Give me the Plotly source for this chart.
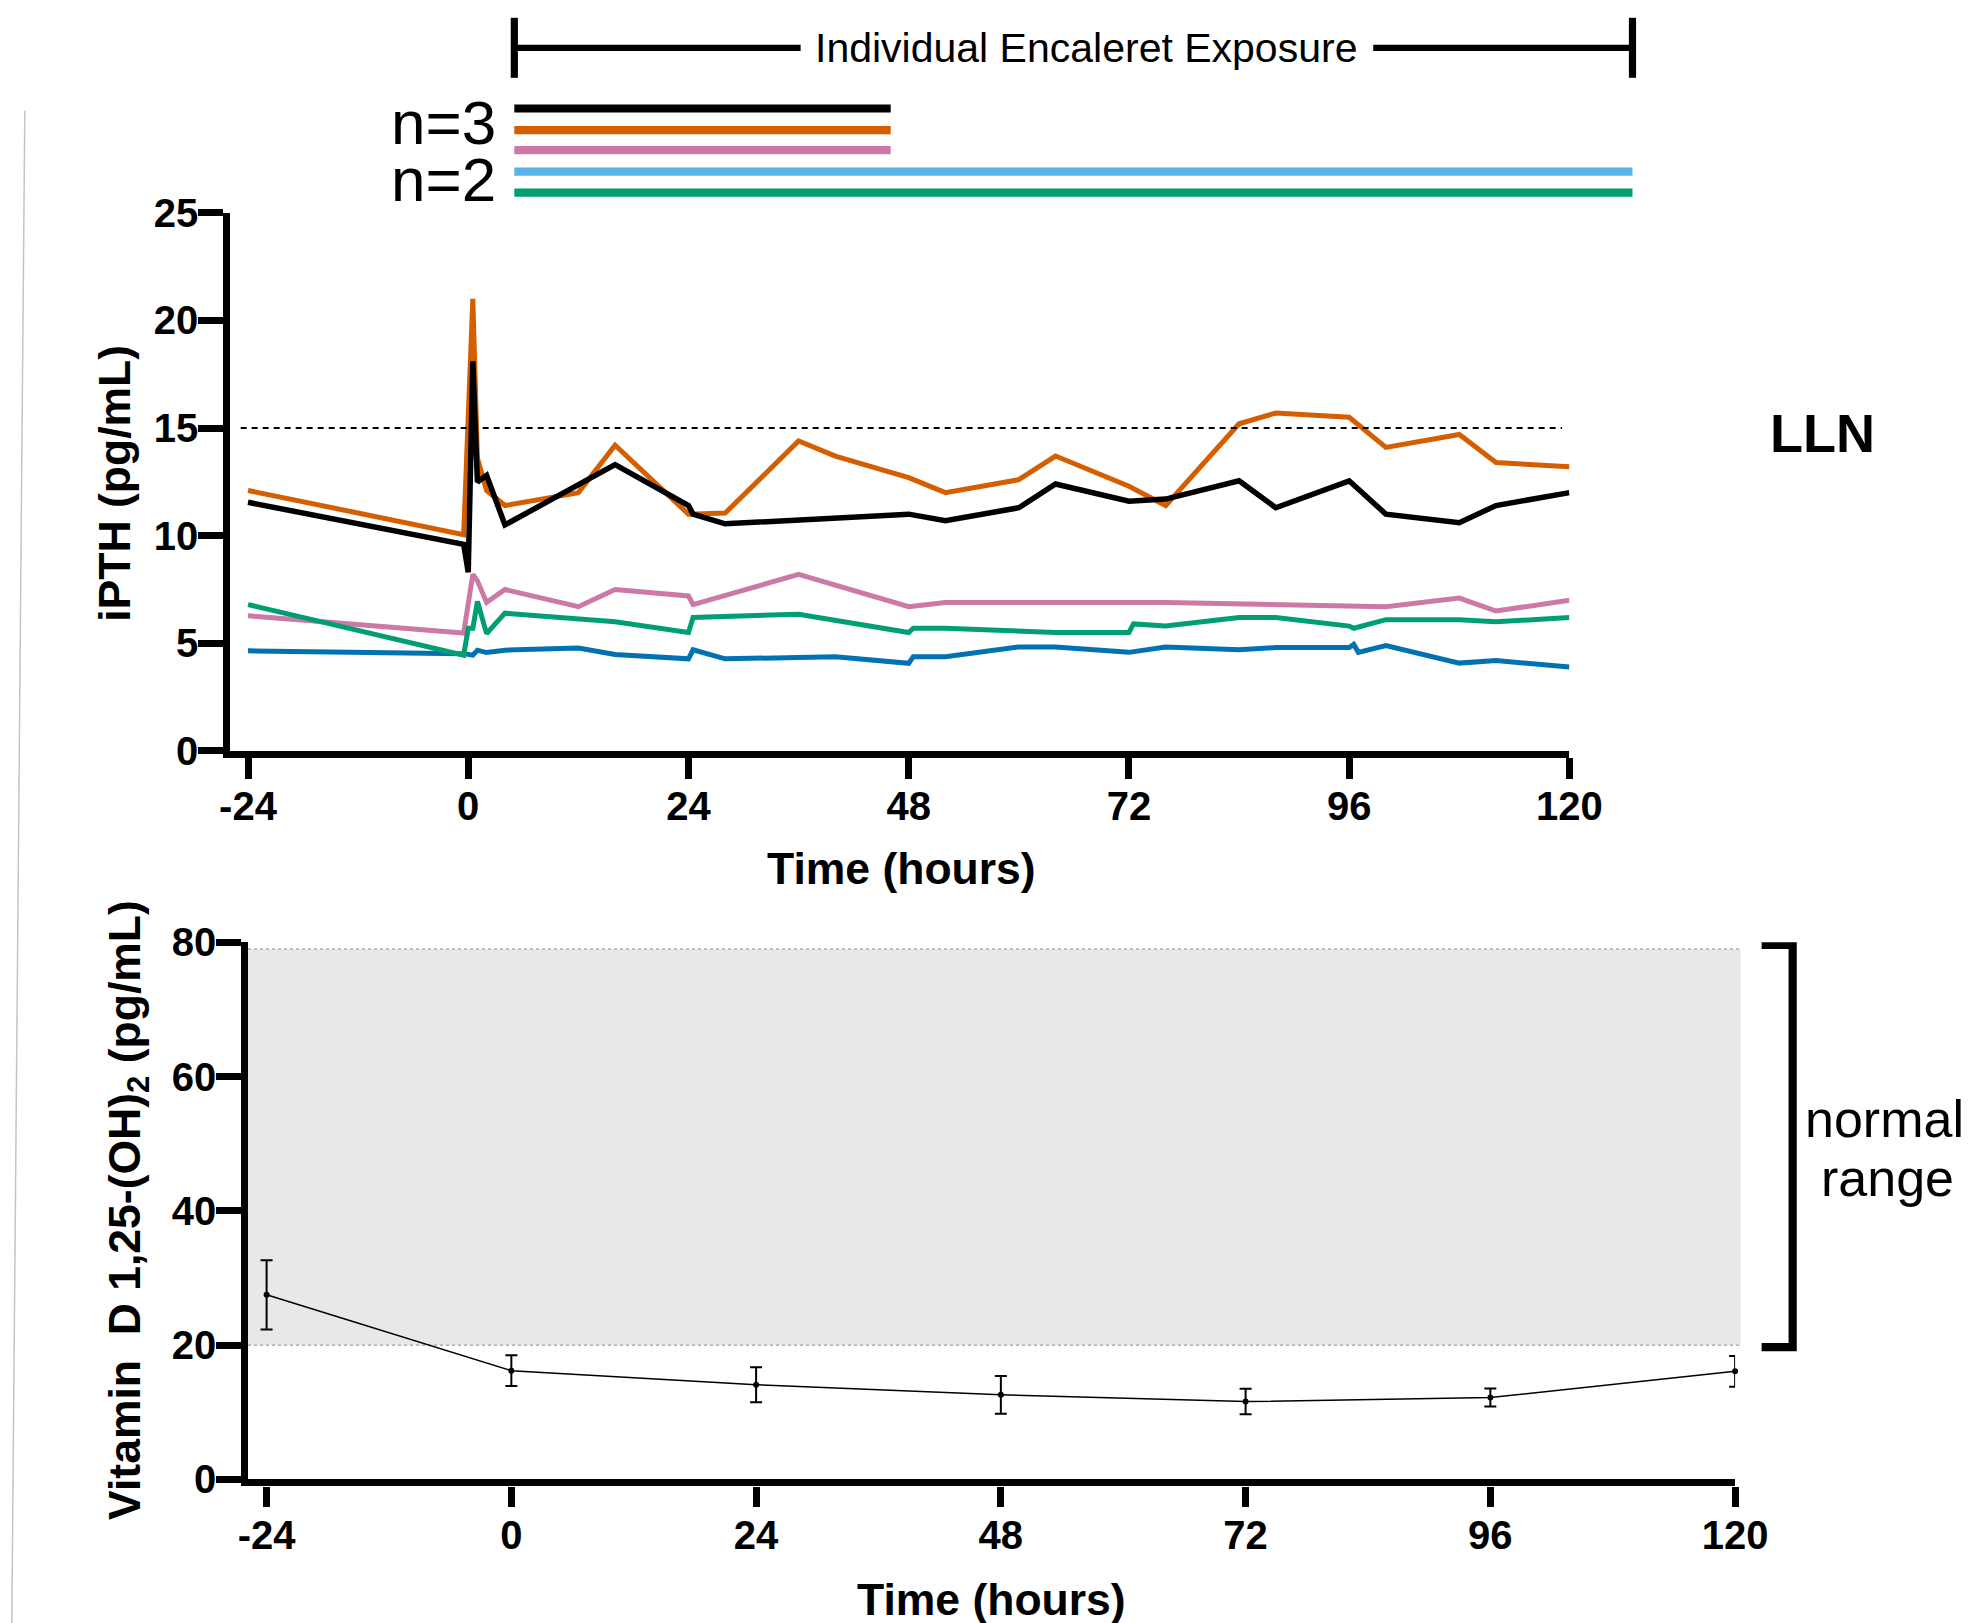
import plotly.graph_objects as go

FONT = "Liberation Sans, Arial, Helvetica, sans-serif"

# ---------------- iPTH (top panel) ----------------
t_black = [-24, -0.5, 0, 0.5, 1, 2, 4, 16, 24, 24.5, 28, 48, 52, 60, 64, 72, 76, 84, 88, 96, 100, 108, 112, 120]
v_black = [11.55, 9.6, 8.3, 18.1, 12.5, 12.8, 10.5, 13.3, 11.4, 11.0, 10.55, 11.0, 10.7, 11.3, 12.4, 11.6, 11.7, 12.55, 11.3, 12.55, 11.0, 10.6, 11.4, 12.0]

t_orange = [-24, -0.5, 0.5, 1, 2, 4, 12, 16, 24, 28, 36, 40, 48, 52, 60, 64, 72, 76, 84, 88, 96, 100, 108, 112, 120]
v_orange = [12.1, 10.05, 21.0, 13.6, 12.1, 11.4, 12.0, 14.2, 11.0, 11.05, 14.4, 13.7, 12.7, 12.0, 12.6, 13.7, 12.3, 11.4, 15.2, 15.7, 15.5, 14.1, 14.7, 13.4, 13.2]

t_pink = [-24, -0.5, 0.5, 1, 2, 4, 12, 16, 24, 24.5, 36, 48, 52, 76, 100, 108, 112, 120]
v_pink = [6.28, 5.48, 8.2, 7.9, 6.9, 7.5, 6.7, 7.5, 7.2, 6.8, 8.2, 6.7, 6.9, 6.9, 6.7, 7.1, 6.5, 7.0]

t_green = [-24, -0.5, 0, 0.5, 1, 2, 4, 12, 16, 24, 24.5, 36, 48, 48.5, 52, 64, 72, 72.5, 76, 84, 88, 96, 96.5, 100, 108, 112, 120]
v_green = [6.8, 4.45, 5.7, 5.7, 6.95, 5.45, 6.4, 6.1, 6.0, 5.5, 6.2, 6.35, 5.5, 5.7, 5.7, 5.5, 5.5, 5.9, 5.8, 6.2, 6.2, 5.8, 5.7, 6.1, 6.1, 6.0, 6.2]

t_blue = [-24, -0.5, 0.5, 1, 2, 4, 12, 16, 24, 24.5, 28, 36, 40, 48, 48.5, 52, 60, 64, 72, 76, 84, 88, 96, 96.5, 97, 100, 108, 112, 120]
v_blue = [4.65, 4.52, 4.45, 4.68, 4.57, 4.68, 4.78, 4.48, 4.28, 4.7, 4.28, 4.37, 4.37, 4.07, 4.38, 4.38, 4.83, 4.83, 4.58, 4.83, 4.7, 4.8, 4.8, 4.95, 4.58, 4.9, 4.08, 4.2, 3.9]

LLN_VALUE = 15
time_ticks = [-24, 0, 24, 48, 72, 96, 120]
time_labels = ["-24", "0", "24", "48", "72", "96", "120"]
iPTH_ticks = [0, 5, 10, 15, 20, 25]

# ---------------- Vitamin D (bottom panel) ----------------
vitd_time = [-24, 0, 24, 48, 72, 96, 120]
vitd_mean = [27.5, 16.2, 14.1, 12.6, 11.6, 12.2, 16.1]
vitd_err = [5.15, 2.3, 2.6, 2.8, 1.9, 1.35, 2.3]
vitd_ticks = [0, 20, 40, 60, 80]
NORMAL_LOW, NORMAL_HIGH = 20, 79

C_BLACK = "#000000"
C_ORANGE = "#D55E00"
C_PINK = "#CC79A7"
C_GREEN = "#009E73"
C_BLUE = "#0072B2"
C_SKY = "#56B4E9"

# mapping from target-picture pixels to figure pixels (measured photo scale/offset)
SX, SY = 0.977, 0.973
OXF, OYF = 18.2, 29.2
FW, FH = 2002, 1640
K = 1.0 / ((SX + SY) / 2)


def px(x):
    return ((x - OXF) / SX) / FW


def py(y):
    return 1 - ((y - OYF) / SY) / FH


def lw(w):
    return w * K


fig = go.Figure()

series = [
    (t_blue, v_blue, C_BLUE, 5),
    (t_pink, v_pink, C_PINK, 5),
    (t_green, v_green, C_GREEN, 5),
    (t_orange, v_orange, C_ORANGE, 5),
    (t_black, v_black, C_BLACK, 5.5),
]
for t, v, c, w in series:
    fig.add_trace(go.Scatter(x=t, y=v, mode="lines", line=dict(color=c, width=w),
                             xaxis="x", yaxis="y", showlegend=False, hoverinfo="skip"))

fig.add_trace(go.Scatter(
    x=vitd_time, y=vitd_mean, mode="lines+markers", cliponaxis=False,
    line=dict(color="black", width=1.5), marker=dict(color="black", size=6),
    error_y=dict(type="data", array=vitd_err, visible=True, color="black", thickness=2, width=6),
    xaxis="x2", yaxis="y2", showlegend=False, hoverinfo="skip"))

axis_common = dict(showgrid=False, zeroline=False, showline=True, linecolor="black",
                   linewidth=lw(7), ticks="outside", tickwidth=lw(7), tickcolor="black",
                   tickfont=dict(family=FONT, size=40, color="black", weight="bold"))

fig.update_layout(
    width=FW, height=FH,
    margin=dict(l=0, r=0, t=0, b=0),
    paper_bgcolor="white", plot_bgcolor="white",
    xaxis=dict(domain=[px(229), px(1567)], range=[-25.96, 120], tickvals=time_ticks,
               ticktext=time_labels, ticklen=lw(20), ticklabelstandoff=-7, anchor="y", **axis_common),
    yaxis=dict(domain=[py(750), py(212)], range=[0, 25], tickvals=iPTH_ticks,
               ticklen=lw(24), ticklabelstandoff=-8, anchor="x", **axis_common),
    xaxis2=dict(domain=[px(247), px(1732.5)], range=[-25.82, 120], tickvals=time_ticks,
                ticktext=time_labels, ticklen=lw(20), ticklabelstandoff=-6, anchor="y2", **axis_common),
    yaxis2=dict(domain=[py(1478.4), py(941.3)], range=[0, 80], tickvals=vitd_ticks,
                ticklen=lw(24), ticklabelstandoff=-8, anchor="x2", **axis_common),
)

shapes = []
# normal range band (bottom)
shapes.append(dict(type="rect", xref="x2 domain", yref="y2", x0=0, x1=1.0037,
                   y0=NORMAL_LOW, y1=NORMAL_HIGH, fillcolor="#E8E8E8", line=dict(width=0),
                   layer="below"))
for yv in (NORMAL_LOW, NORMAL_HIGH):
    shapes.append(dict(type="line", xref="x2 domain", yref="y2", x0=0, x1=1.0037,
                       y0=yv, y1=yv, line=dict(color="#8a8a8a", width=1, dash="dot"),
                       layer="below"))
# LLN dotted line (top)
shapes.append(dict(type="line", xref="x", yref="y", x0=-24.8, x1=119.2,
                   y0=LLN_VALUE, y1=LLN_VALUE, line=dict(color="black", width=2, dash="6px,5px")))

# normal range bracket
shapes.append(dict(type="path", xref="paper", yref="y2",
                   path=f"M {px(1759)},{NORMAL_HIGH + 0.6} L {px(1790)},{NORMAL_HIGH + 0.6} "
                        f"L {px(1790)},{NORMAL_LOW - 0.3} L {px(1759)},{NORMAL_LOW - 0.3}",
                   line=dict(color="black", width=lw(8))))

# exposure bracket on top
top_y = py(47)
shapes += [
    dict(type="line", xref="paper", yref="paper", x0=px(513), x1=px(799), y0=top_y, y1=top_y,
         line=dict(color="black", width=lw(6))),
    dict(type="line", xref="paper", yref="paper", x0=px(1371), x1=px(1630), y0=top_y, y1=top_y,
         line=dict(color="black", width=lw(6))),
    dict(type="line", xref="paper", yref="paper", x0=px(513), x1=px(513), y0=py(17), y1=py(77),
         line=dict(color="black", width=lw(7))),
    dict(type="line", xref="paper", yref="paper", x0=px(1630), x1=px(1630), y0=py(17), y1=py(77),
         line=dict(color="black", width=lw(7))),
]
exposure_bars = [
    (C_BLACK, 107.7, 889),
    (C_ORANGE, 129.3, 889),
    (C_PINK, 149.3, 889),
    (C_SKY, 170.7, 1630),
    (C_GREEN, 191.7, 1630),
]
for c, yy, xe in exposure_bars:
    shapes.append(dict(type="line", xref="paper", yref="paper", x0=px(513), x1=px(xe),
                       y0=py(yy), y1=py(yy), line=dict(color=c, width=lw(8))))

# faint left-edge rule
shapes.append(dict(type="line", xref="paper", yref="paper", x0=px(24), x1=px(11),
                   y0=py(110), y1=py(1623), line=dict(color="#c4c4c4", width=1.5)))

fig.update_layout(shapes=shapes)


def ann(text, x, y, size, bold=False, angle=0, xanchor="center"):
    return dict(text=text, xref="paper", yref="paper", x=px(x), y=py(y), showarrow=False,
                xanchor=xanchor, yanchor="middle", textangle=angle,
                font=dict(family=FONT, size=size, color="black", weight="bold" if bold else "normal"))


annotations = [
    ann("Individual Encaleret Exposure", 1084.5, 47, 41),
    ann("n=3", 442, 122, 62),
    ann("n=2", 442, 179, 62),
    ann("LLN", 1820, 432, 54, bold=True),
    ann("normal", 1882, 1118, 52),
    ann("range", 1885, 1177, 52),
    ann("Time (hours)", 900, 868, 44.5, bold=True),
    ann("Time (hours)", 990, 1598, 44.5, bold=True),
    ann("iPTH (pg/mL)", 114, 482, 44.5, bold=True, angle=-90),
    ann("Vitamin  D 1,25-(OH)<sub>2</sub> (pg/mL)", 127, 1209, 44.5, bold=True, angle=-90),
]
fig.update_layout(annotations=annotations)

fig.write_html("out.html")
